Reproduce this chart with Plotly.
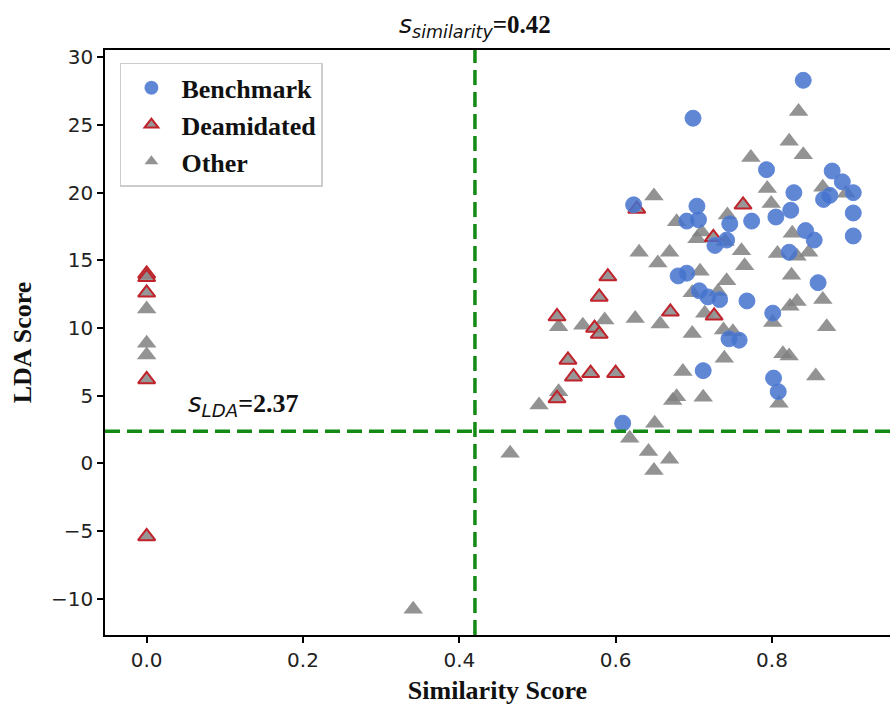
import plotly.graph_objects as go

# Benchmark (blue circles)
bench_x = [0.840, 0.699, 0.793, 0.877, 0.890, 0.904, 0.874, 0.866, 0.828, 0.824,
           0.805, 0.774, 0.746, 0.704, 0.706, 0.691, 0.623, 0.904, 0.843, 0.854,
           0.904, 0.742, 0.727, 0.822, 0.859, 0.680, 0.691, 0.707, 0.718, 0.733,
           0.768, 0.801, 0.745, 0.758, 0.712, 0.802, 0.808, 0.609]
bench_y = [28.3, 25.5, 21.7, 21.6, 20.8, 20.0, 19.8, 19.5, 20.0, 18.7,
           18.2, 17.9, 17.7, 19.0, 18.0, 17.9, 19.1, 18.5, 17.2, 16.5,
           16.8, 16.5, 16.1, 15.6, 13.35, 13.85, 14.05, 12.75, 12.3, 12.1,
           12.0, 11.1, 9.2, 9.1, 6.85, 6.3, 5.3, 2.97]

# Deamidated (red-edged triangles)
deam_x = [0.0, 0.0, 0.0, 0.0, 0.0, 0.590, 0.579, 0.525, 0.573, 0.579,
          0.670, 0.539, 0.546, 0.568, 0.600, 0.525, 0.627, 0.763, 0.725, 0.726]
deam_y = [14.0, 13.75, 12.6, 6.2, -5.4, 13.8, 12.3, 10.85, 10.0, 9.55,
          11.2, 7.64, 6.4, 6.66, 6.66, 4.8, 18.8, 19.1, 16.7, 10.9]

# Other (gray triangles)
other_x = [0.0, 0.0, 0.0, 0.341,
           0.630, 0.669, 0.654, 0.698, 0.527, 0.558, 0.586, 0.625, 0.657, 0.698,
           0.686, 0.678, 0.673, 0.527, 0.502, 0.650, 0.618, 0.465, 0.642, 0.669, 0.649,
           0.761, 0.807, 0.832, 0.847, 0.765, 0.708, 0.742, 0.825, 0.731, 0.823,
           0.832, 0.865, 0.714, 0.801, 0.870, 0.738, 0.750, 0.814, 0.822, 0.739,
           0.856, 0.712, 0.809,
           0.834, 0.822, 0.840, 0.773, 0.794, 0.799, 0.865, 0.895, 0.743, 0.710,
           0.704, 0.740, 0.826, 0.649, 0.678]
other_y = [11.4, 8.88, 8.0, -10.77,
           15.6, 15.6, 14.8, 12.6, 10.1, 10.2, 10.6, 10.7, 10.3, 9.6,
           6.78, 4.93, 4.64, 5.3, 4.32, 2.97, 1.86, 0.75, 0.87, 0.31, -0.53,
           15.7, 15.5, 15.3, 15.6, 14.6, 14.2, 13.5, 13.9, 12.7, 11.6,
           11.95, 12.1, 11.1, 10.4, 10.1, 9.86, 9.73, 8.09, 7.94, 7.77,
           6.46, 4.89, 4.45,
           26.0, 23.8, 22.8, 22.6, 20.3, 19.2, 20.4, 19.95, 18.35, 17.1,
           16.6, 16.4, 17.0, 19.75, 17.85]

s_similarity = 0.42
s_lda = 2.37

x_range = [-0.0533, 0.951]
y_range = [-12.68, 30.54]

SERIF = "Liberation Serif, Times New Roman, serif"
SANS = "DejaVu Sans, sans-serif"

fig = go.Figure()
fig.add_trace(go.Scatter(
    x=other_x, y=other_y, mode="markers", name="Other",
    marker=dict(symbol="triangle-up", size=17, color="rgba(128,128,128,0.85)",
                line=dict(width=0))))
fig.add_trace(go.Scatter(
    x=deam_x, y=deam_y, mode="markers", name="Deamidated",
    marker=dict(symbol="triangle-up", size=15, color="rgba(140,140,140,0.9)",
                line=dict(width=2, color="#c0232b"))))
fig.add_trace(go.Scatter(
    x=bench_x, y=bench_y, mode="markers", name="Benchmark",
    marker=dict(symbol="circle", size=16, color="rgba(68,114,204,0.85)",
                line=dict(width=1, color="rgba(90,130,215,0.9)"))))

dash = "15px,7px"
fig.add_shape(type="line", xref="x", yref="paper", x0=s_similarity, x1=s_similarity,
              y0=0, y1=1, line=dict(color="#138a13", width=3.5, dash=dash))
fig.add_shape(type="line", xref="paper", yref="y", x0=0, x1=1, y0=s_lda, y1=s_lda,
              line=dict(color="#138a13", width=3.5, dash=dash))

fig.add_annotation(
    x=s_similarity, y=1.0, xref="x", yref="paper", yanchor="bottom", yshift=6,
    showarrow=False,
    text="<i>s<sub>similarity</sub></i><span style=\"font-family:'Liberation Serif'\"><b>=0.42</b></span>",
    font=dict(family=SANS, size=25, color="#111"))
fig.add_annotation(
    x=0.05, y=s_lda, xref="x", yref="y", xanchor="left", yanchor="bottom", yshift=8,
    showarrow=False,
    text="<i>s<sub>LDA</sub></i><span style=\"font-family:'Liberation Serif'\"><b>=2.37</b></span>",
    font=dict(family=SANS, size=26, color="#111"))

fig.update_layout(
    width=890, height=706,
    margin=dict(l=105, r=0, t=50, b=71),
    plot_bgcolor="white", paper_bgcolor="white",
    showlegend=True,
    legend=dict(x=0.019, y=0.978, xanchor="left", yanchor="top",
                traceorder="reversed", itemwidth=50,
                bgcolor="rgba(255,255,255,0.9)", bordercolor="#cccccc", borderwidth=1.5,
                font=dict(family=SERIF, size=26, color="#111", weight="bold"),
                itemsizing="constant"),
)
fig.update_xaxes(range=x_range, showgrid=False, zeroline=False, automargin=False,
                 showline=True, linecolor="black", linewidth=1.5, mirror=True,
                 ticks="outside", ticklen=6, tickcolor="black", tickwidth=1.5,
                 tickvals=[0.0, 0.2, 0.4, 0.6, 0.8], ticktext=["0.0", "0.2", "0.4", "0.6", "0.8"],
                 tickfont=dict(family=SANS, size=20, color="#222"),
                 title=dict(text="<b>Similarity Score</b>", standoff=10,
                            font=dict(family=SERIF, size=26, color="#111")))
fig.update_yaxes(range=y_range, showgrid=False, zeroline=False, automargin=False,
                 showline=True, linecolor="black", linewidth=1.5, mirror=False,
                 ticks="outside", ticklen=6, tickcolor="black", tickwidth=1.5,
                 tickvals=[-10, -5, 0, 5, 10, 15, 20, 25, 30],
                 ticktext=["\u221210", "\u22125", "0", "5", "10", "15", "20", "25", "30"],
                 tickfont=dict(family=SANS, size=20, color="#222"),
                 title=dict(text="<b>LDA Score</b>", standoff=12,
                            font=dict(family=SERIF, size=26, color="#111")))

fig.write_html("out.html", config={"displayModeBar": False},
               post_script="document.body.style.margin='0';")
